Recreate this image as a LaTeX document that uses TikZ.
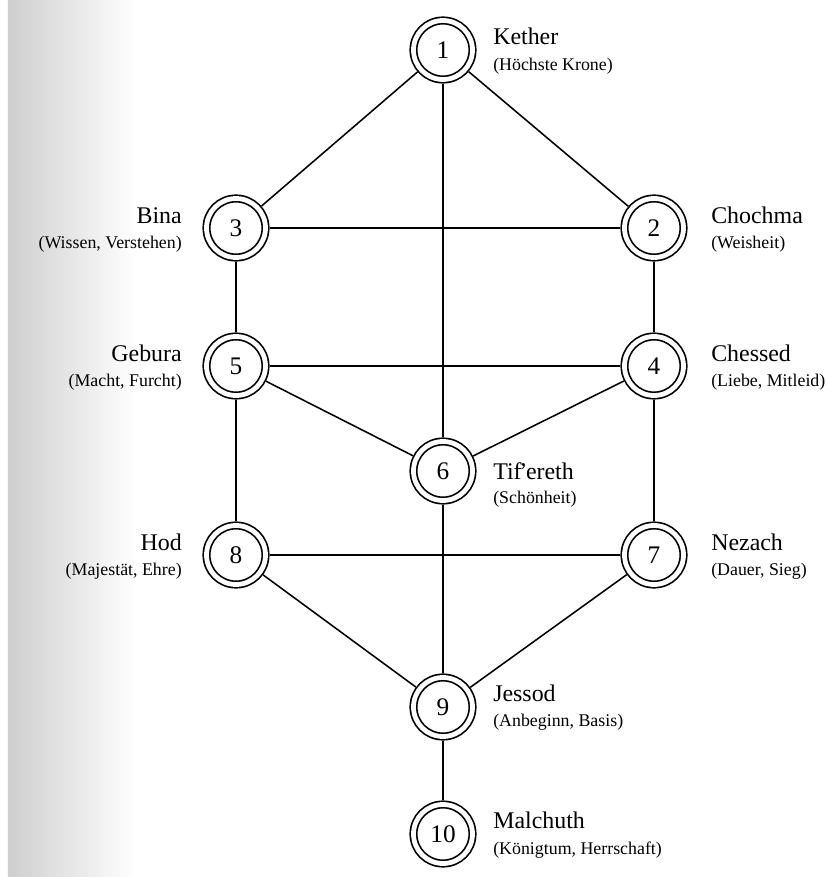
\documentclass[tikz,border=0pt]{standalone}
\usepackage{fontspec}
\setmainfont{Liberation Serif}
\usetikzlibrary{calc}

\tikzset{
  sefira/.style={circle, draw, double, line width=1.2pt, double distance=3.4pt,
    minimum size=1.475cm, inner sep=0pt, outer sep=2.9pt,
    font=\fontsize{18}{18}\selectfont},
  pfad/.style={line width=1.1pt},
  titel/.style={inner sep=0pt, font=\fontsize{17}{17}\selectfont},
  untertitel/.style={inner sep=0pt, font=\fontsize{12.7}{12.7}\selectfont},
}

\begin{document}
\begin{tikzpicture}
\def\xl{5.9}
\def\xm{11.075}
\def\xr{16.35}
\def\dl{1.35}
\def\dm{1.25}
\def\dr{1.425}

\useasboundingbox (0,0) rectangle (20.625,21.925);
% Schatten am linken Rand
\shade[left color=gray!38, right color=white] (0.2,0) rectangle (3.4,21.925);

% Sefirot
\node[sefira] (S1) at (\xm,20.675) {1};
\node[sefira] (S2) at (\xr,16.225) {2};
\node[sefira] (S3) at (\xl,16.225) {3};
\node[sefira] (S4) at (\xr,12.775) {4};
\node[sefira] (S5) at (\xl,12.775) {5};
\node[sefira] (S6) at (\xm,10.15) {6};
\node[sefira] (S7) at (\xr,8.05) {7};
\node[sefira] (S8) at (\xl,8.05) {8};
\node[sefira] (S9) at (\xm,4.25) {9};
\node[sefira] (S10) at (\xm,1.075) {10};

% Pfade
\draw[pfad] (S1) -- (S3);
\draw[pfad] (S1) -- (S2);
\draw[pfad] (S1) -- (S6);
\draw[pfad] (S3) -- (S2);
\draw[pfad] (S3) -- (S5);
\draw[pfad] (S2) -- (S4);
\draw[pfad] (S5) -- (S4);
\draw[pfad] (S5) -- (S6);
\draw[pfad] (S4) -- (S6);
\draw[pfad] (S5) -- (S8);
\draw[pfad] (S4) -- (S7);
\draw[pfad] (S6) -- (S9);
\draw[pfad] (S8) -- (S7);
\draw[pfad] (S8) -- (S9);
\draw[pfad] (S7) -- (S9);
\draw[pfad] (S9) -- (S10);

% Namen
\node[titel, anchor=base west] (kether) at ($(S1)+(\dm,0.125)$) {Kether};
\node[untertitel, anchor=base west] (kether-sub) at ($(S1)+(\dm,-0.525)$) {(Höchste Krone)};
\node[titel, anchor=base west] (chochma) at ($(S2)+(\dr,0.11)$) {Chochma};
\node[untertitel, anchor=base west] (chochma-sub) at ($(S2)+(\dr,-0.51)$) {(Weisheit)};
\node[titel, anchor=base east] (bina) at ($(S3)+(-\dl,0.11)$) {Bina};
\node[untertitel, anchor=base east] (bina-sub) at ($(S3)+(-\dl,-0.51)$) {(Wissen, Verstehen)};
\node[titel, anchor=base west] (chessed) at ($(S4)+(\dr,0.11)$) {Chessed};
\node[untertitel, anchor=base west] (chessed-sub) at ($(S4)+(\dr,-0.51)$) {(Liebe, Mitleid)};
\node[titel, anchor=base east] (gebura) at ($(S5)+(-\dl,0.11)$) {Gebura};
\node[untertitel, anchor=base east] (gebura-sub) at ($(S5)+(-\dl,-0.51)$) {(Macht, Furcht)};
\node[titel, anchor=base west] (tifereth) at ($(S6)+(\dm,-0.225)$) {Tif\kern-0.1em'\kern-0.05em ereth};
\node[untertitel, anchor=base west] (tifereth-sub) at ($(S6)+(\dm,-0.825)$) {(Schönheit)};
\node[titel, anchor=base west] (nezach) at ($(S7)+(\dr,0.11)$) {Nezach};
\node[untertitel, anchor=base west] (nezach-sub) at ($(S7)+(\dr,-0.51)$) {(Dauer, Sieg)};
\node[titel, anchor=base east] (hod) at ($(S8)+(-\dl,0.11)$) {Hod};
\node[untertitel, anchor=base east] (hod-sub) at ($(S8)+(-\dl,-0.51)$) {(Majestät, Ehre)};
\node[titel, anchor=base west] (jessod) at ($(S9)+(\dm,0.125)$) {Jessod};
\node[untertitel, anchor=base west] (jessod-sub) at ($(S9)+(\dm,-0.5)$) {(Anbeginn, Basis)};
\node[titel, anchor=base west] (malchuth) at ($(S10)+(\dm,0.125)$) {Malchuth};
\node[untertitel, anchor=base west] (malchuth-sub) at ($(S10)+(\dm,-0.5)$) {(Königtum, Herrschaft)};
\end{tikzpicture}
\end{document}
